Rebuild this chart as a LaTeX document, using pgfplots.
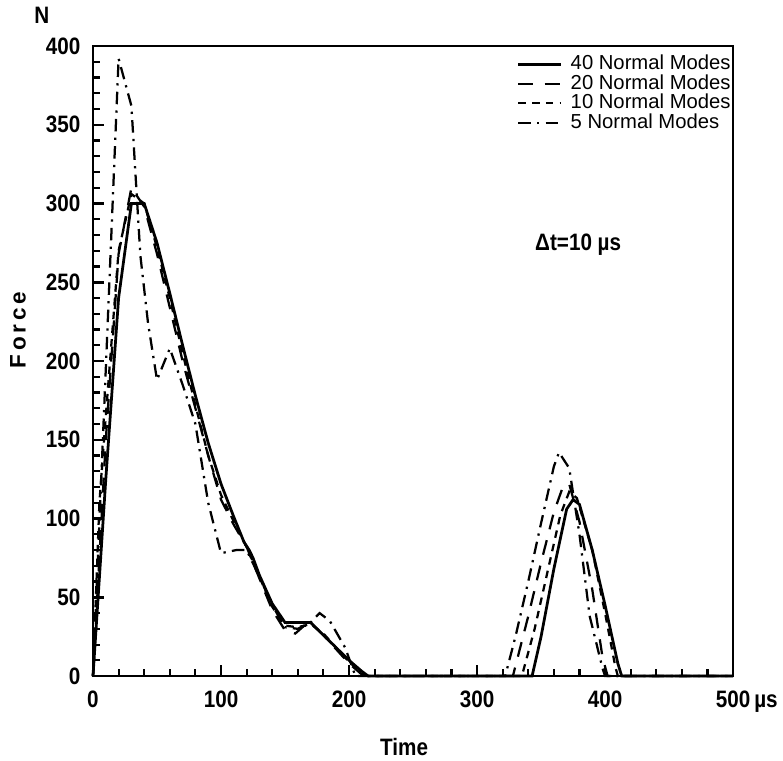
\documentclass[border=0pt]{standalone}
\usepackage{fontspec}
\setmainfont{Liberation Sans}
\newfontfamily\narrowfont{Liberation Sans}[FakeStretch=0.87]
\usepackage{pgfplots}
\pgfplotsset{compat=1.18}

\newcommand\tickfont{\narrowfont\bfseries\fontsize{9.5}{11}\selectfont}
\newcommand\legfont{\fontsize{8.1}{8.1}\selectfont}

\begin{document}
\begin{tikzpicture}
\begin{axis}[
  scale only axis, width=256pt, height=252pt, clip=false,
  xmin=0, xmax=500, ymin=0, ymax=400,
  xtick={0,100,200,300,400,500},
  xticklabels={0,100,200,300,400,500\rlap{\,µs}},
  ytick={0,50,100,150,200,250,300,350,400},
  minor x tick num=4, minor y tick num=4,
  xtick pos=bottom, ytick pos=left,
  axis line style={line width=0.8pt},
  major tick style={black, line width=1pt},
  minor tick style={black, line width=0.85pt},
  /pgf/number format/assume math mode=true,
  tick label style={font=\tickfont},
  xticklabel style={yshift=-2.5pt},
  yticklabel style={xshift=-1.5pt},
  legend style={at={(1,1)}, anchor=north east, draw=none, fill=none,
    font=\legfont, row sep=-0.2pt, nodes={inner sep=0.3pt},
    cells={anchor=west}, xshift=2.5pt, yshift=-1.2pt},
  legend cell align=left,
]
\addplot[black, line width=1.1pt] coordinates {
(0,0) (10,125) (20,240) (30,300) (40,300) (50,275) (60,243) (70,210) (80,178)
(90,148) (100,122) (110,101) (118,85) (122,80) (125,75) (130,64) (140,46)
(150,34) (170,34) (180,26) (190,18) (200,10) (210,3) (215,0) (343,0) (350,25)
(360,68) (370,106) (375,112) (380,109) (390,80) (400,45) (410,8) (413,0) (500,0)};
\addlegendentry{\hspace{3pt}40 Normal Modes}
\addplot[black, line width=0.9pt, dash pattern=on 6pt off 4.5pt] coordinates {
(0,0) (10,150) (20,268) (30,310) (40,298) (50,268) (60,234) (70,200) (80,170)
(90,140) (100,112) (110,96) (120,82) (130,62) (140,42) (150,29) (158,27)
(165,32) (172,32) (180,26) (190,17) (200,8) (210,1) (215,0) (328,0) (340,38)
(350,72) (360,104) (367,120) (372,122) (380,98) (390,55) (398,12) (402,0) (500,0)};
\addlegendentry{\hspace{3pt}20 Normal Modes}
\addplot[black, line width=0.9pt, dash pattern=on 3pt off 2.5pt] coordinates {
(0,0) (5,110) (10,165) (20,270) (30,306) (40,300) (50,272) (60,240) (70,205)
(80,172) (90,140) (100,115) (110,98) (120,82) (130,63) (140,44) (150,32)
(160,31) (170,33) (180,27) (190,18) (200,9) (210,2) (215,0) (335,0) (345,30)
(355,66) (365,102) (372,117) (378,113) (390,80) (400,40) (408,6) (410,0) (500,0)};
\addlegendentry{\hspace{3pt}10 Normal Modes}
\addplot[black, line width=0.9pt, dash pattern=on 5pt off 2.5pt on 0.9pt off 2.5pt] coordinates {
(0,0) (10,195) (20,392) (30,362) (37,267) (43,224) (50,188) (60,208) (70,185)
(80,160) (90,110) (100,78) (112,80) (120,80) (130,63) (140,45) (150,31)
(160,30) (170,34) (177,40) (185,35) (197,18) (205,0) (322,0) (330,25) (340,60)
(350,97) (360,133) (364,142) (372,132) (380,90) (388,38) (398,5) (400,0) (500,0)};
\addlegendentry{\hspace{3pt}5 Normal Modes}
\node[font=\tickfont] at (axis cs:379,274) {Δt=10 µs};
\node[font=\tickfont] at (rel axis cs:-0.080,1.049) {N};
\node[font=\bfseries\fontsize{9}{10}\selectfont, rotate=90] at (rel axis cs:-0.117,0.549) {F\,o\,r\,c\,e};
\node[font=\tickfont] at (rel axis cs:0.486,-0.113) {Time};
\coordinate (bl) at (rel axis cs:-0.1453,-0.1333);
\coordinate (tr) at (rel axis cs:1.078,1.073);
\end{axis}
\pgfresetboundingbox
\path[use as bounding box] (bl) rectangle (tr);
\end{tikzpicture}
\end{document}
